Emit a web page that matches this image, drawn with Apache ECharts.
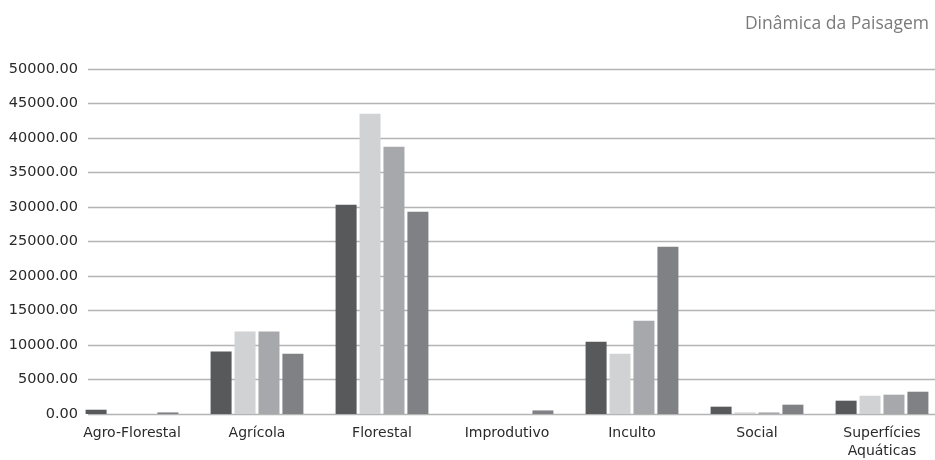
<!DOCTYPE html>
<html>
<head>
<meta charset="utf-8">
<title>Dinâmica da Paisagem</title>
<script src="https://cdn.jsdelivr.net/npm/echarts@6/dist/echarts.min.js"></script>
<style>
  html, body { margin: 0; padding: 0; background: #ffffff; }
  #chart { width: 935px; height: 460px; }
</style>
</head>
<body>
<div id="chart"></div>
<script>
// Land-use classes (hectares) for four survey periods
const categories = ['Agro-Florestal', 'Agrícola', 'Florestal', 'Improdutivo', 'Inculto', 'Social', 'Superfícies\nAquáticas'];
const periodo1 = [620, 9070, 30330, 0, 10480, 1060, 1930];
const periodo2 = [0, 11970, 43520, 0, 8740, 230, 2650];
const periodo3 = [0, 11970, 38740, 0, 13520, 230, 2800];
const periodo4 = [230, 8740, 29320, 520, 24250, 1350, 3230];
const seriesNames = ['Período 1', 'Período 2', 'Período 3', 'Período 4'];
const seriesColors = ['#58595b', '#d1d2d4', '#a7a8ab', '#808184'];
const yTicks = { min: 0, max: 50000, interval: 5000 };

const TITLE_FONT = '"Open Sans", "Noto Sans", sans-serif';
const AXIS_FONT = '"DejaVu Sans", "Noto Sans", sans-serif';
const chart = echarts.init(document.getElementById('chart'), null, { renderer: 'canvas' });

const seriesData = [periodo1, periodo2, periodo3, periodo4];

chart.setOption({
  animation: false,
  backgroundColor: '#ffffff',
  title: {
    text: 'Dinâmica da Paisagem',
    right: 1,
    top: 10,
    textStyle: { fontFamily: TITLE_FONT, fontSize: 17.5, fontWeight: 'normal', color: '#7a7a7a' }
  },
  grid: [
    // value axis with gridlines
    { left: 88, right: 0, top: 69, height: 345, outerBoundsMode: 'none' },
    // category bands for the bars (last band runs past the right edge)
    { left: 69.5, width: 875, top: 69, height: 345, outerBoundsMode: 'none' }
  ],
  xAxis: [
    {
      gridIndex: 0, type: 'category', data: categories,
      axisLine: { show: false }, axisTick: { show: false }, axisLabel: { show: false }
    },
    {
      gridIndex: 1, type: 'category', data: categories,
      axisLine: { show: false }, axisTick: { show: false },
      axisLabel: {
        interval: 0, margin: 10, fontFamily: AXIS_FONT, fontSize: 14, color: '#2a2a2a', lineHeight: 18
      }
    }
  ],
  yAxis: [
    {
      gridIndex: 0, type: 'value', min: yTicks.min, max: yTicks.max, interval: yTicks.interval,
      axisLine: { show: false }, axisTick: { show: false },
      axisLabel: {
        margin: 10, fontFamily: AXIS_FONT, fontSize: 14.5, color: '#2a2a2a',
        formatter: v => v.toFixed(2)
      },
      splitLine: { show: true, lineStyle: { color: '#b4b4b4', width: 1.3 } }
    },
    {
      gridIndex: 1, type: 'value', min: yTicks.min, max: yTicks.max, interval: yTicks.interval,
      show: false, splitLine: { show: false }
    }
  ],
  series: seriesData.map((data, i) => ({
    name: seriesNames[i],
    type: 'bar',
    xAxisIndex: 1,
    yAxisIndex: 1,
    data: data,
    barWidth: 21,
    barGap: '14%',
    itemStyle: { color: seriesColors[i] }
  }))
});
</script>
</body>
</html>
